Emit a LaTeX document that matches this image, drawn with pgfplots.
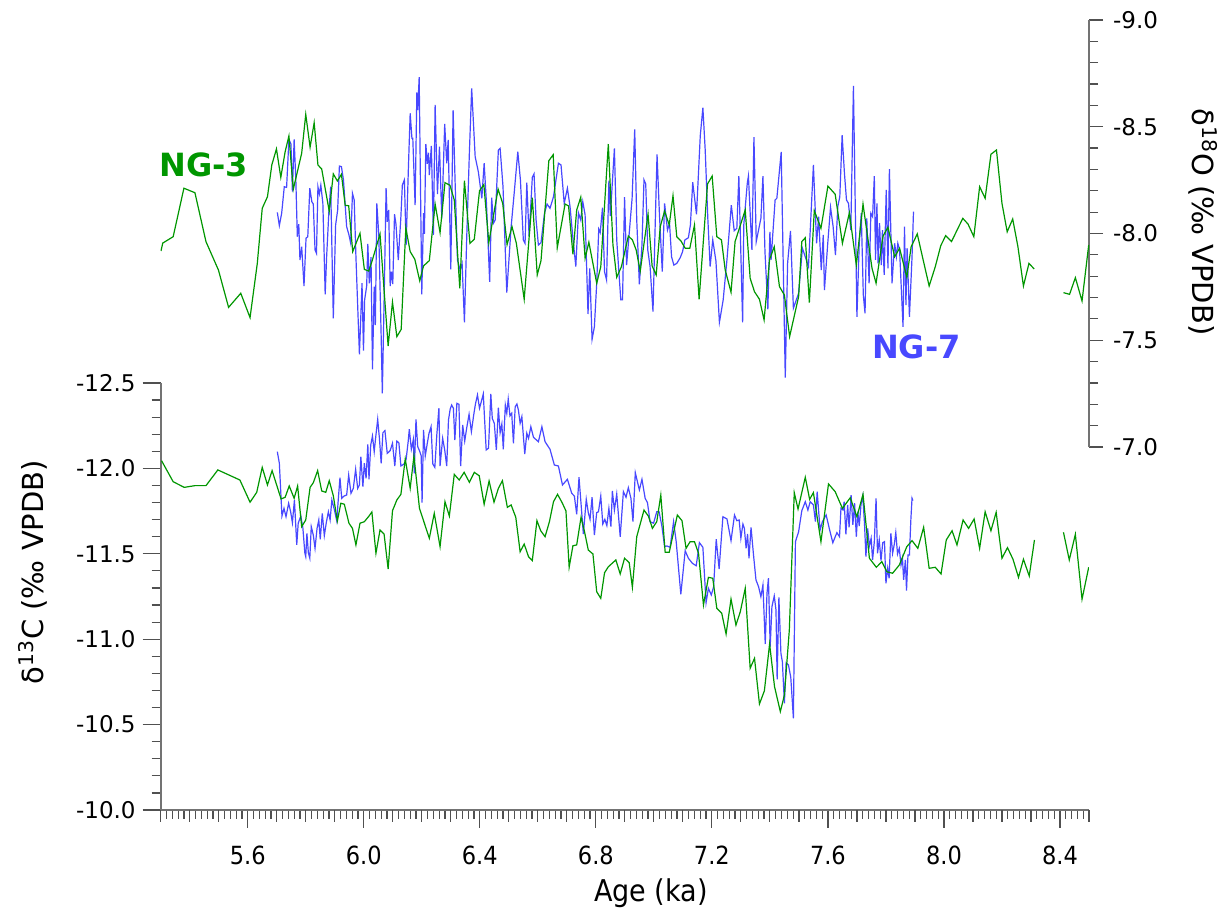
\documentclass[border=0pt]{standalone}
\usepackage{fontspec}
\setmainfont{DejaVu Sans}
\newfontfamily\condfont{DejaVu Sans Condensed}
\usepackage{pgfplots}
\pgfplotsset{compat=1.18}
\definecolor{ngGreen}{RGB}{0,150,0}
\definecolor{ngBlue}{RGB}{72,72,255}
\definecolor{axgray}{RGB}{115,115,115}
\definecolor{tickgray}{RGB}{80,80,80}
\begin{document}
\begin{tikzpicture}
\path[use as bounding box] (0,0) rectangle (611pt,454pt);
% ---------------- bottom axis: d13C ----------------
\begin{axis}[
  at={(80.35pt,49pt)}, anchor=south west,
  scale only axis, width=464.15pt, height=213.5pt,
  xmin=5.3, xmax=8.5, ymin=-12.5, ymax=-10, y dir=reverse,
  axis x line*=bottom, axis y line*=left,
  axis line style={-, draw=axgray, line width=1pt},
  tick align=outside,
  every tick/.style={draw=tickgray, line width=0.6pt},
  major tick length=9pt, minor tick length=4.5pt,
  xtick={5.6,6.0,6.4,6.8,7.2,7.6,8.0,8.4},
  xticklabels={5.6,6.0,6.4,6.8,7.2,7.6,8.0,8.4},
  minor xtick={5.30,5.32,...,8.50},
  extra x ticks={5.3,5.4,5.5,5.7,5.8,5.9,6.1,6.2,6.3,6.5,6.6,6.7,6.9,7.0,7.1,7.3,7.4,7.5,7.7,7.8,7.9,8.1,8.2,8.3,8.5},
  extra x tick labels={},
  extra x tick style={major tick length=6pt},
  ytick={-12.5,-12,-11.5,-11,-10.5,-10},
  yticklabels={-12.5,-12.0,-11.5,-11.0,-10.5,-10.0},
  minor ytick={-12.4,-12.3,-12.2,-12.1,-11.9,-11.8,-11.7,-11.6,-11.4,-11.3,-11.2,-11.1,-10.9,-10.8,-10.7,-10.6,-10.4,-10.3,-10.2,-10.1},
  yticklabel style={font=\fontsize{11.5}{13}\selectfont},
  xticklabel style={font=\condfont\fontsize{12.5}{14}\selectfont, yshift=-5.5pt},
  xlabel={Age (ka)},
  ylabel={δ\textsuperscript{13}C (‰ VPDB)},
  ylabel style={font=\fontsize{14.5}{17}\selectfont, at={(axis description cs:-0.1376,0.557)}, anchor=center},
  xlabel style={font=\condfont\fontsize{15}{17}\selectfont, at={(axis description cs:0.528,-0.194)}, anchor=center},
  clip mode=individual,
]
\addplot[ngBlue, line width=0.6pt] coordinates {
(5.702,-12.098)(5.709,-12.030)(5.718,-11.721)(5.725,-11.766)(5.732,-11.717)(5.741,-11.796)(5.748,-11.746)(5.754,-11.682)(5.761,-11.815)(5.769,-11.552)
(5.774,-11.679)(5.783,-11.721)(5.790,-11.653)(5.797,-11.503)(5.800,-11.483)(5.804,-11.620)(5.809,-11.506)(5.814,-11.474)(5.819,-11.659)(5.826,-11.610)
(5.832,-11.532)(5.839,-11.649)(5.845,-11.698)(5.850,-11.585)(5.857,-11.737)(5.864,-11.606)(5.871,-11.684)(5.878,-11.746)(5.884,-11.698)(5.890,-11.815)
(5.899,-11.756)(5.907,-11.692)(5.912,-11.815)(5.918,-11.946)(5.924,-11.825)(5.932,-11.838)(5.941,-11.844)(5.948,-11.961)(5.956,-11.854)(5.964,-11.883)
(5.972,-11.995)(5.979,-11.883)(5.985,-11.903)(5.990,-12.068)(5.997,-11.893)(6.002,-12.030)(6.008,-11.942)(6.014,-12.141)(6.018,-11.936)(6.024,-12.137)
(6.030,-12.190)(6.036,-12.098)(6.042,-12.196)(6.048,-12.287)(6.054,-12.176)(6.060,-12.030)(6.066,-12.209)(6.073,-12.221)(6.081,-12.088)(6.091,-12.104)
(6.099,-12.147)(6.107,-12.014)(6.114,-12.160)(6.121,-12.150)(6.128,-12.014)(6.139,-12.026)(6.146,-12.053)(6.153,-12.156)(6.157,-12.229)(6.164,-12.112)
(6.171,-12.170)(6.174,-11.971)(6.180,-12.287)(6.186,-12.127)(6.192,-12.104)(6.198,-12.073)(6.201,-11.799)(6.206,-12.225)(6.212,-12.073)(6.219,-12.147)
(6.225,-12.206)(6.232,-12.244)(6.238,-12.026)(6.245,-12.006)(6.252,-12.201)(6.259,-12.352)(6.263,-12.014)(6.272,-12.176)(6.279,-12.108)(6.286,-12.014)
(6.292,-12.283)(6.298,-12.348)(6.303,-12.371)(6.309,-12.352)(6.314,-12.166)(6.321,-12.381)(6.328,-12.375)(6.334,-12.014)(6.341,-12.254)(6.348,-12.160)
(6.355,-12.238)(6.363,-12.317)(6.371,-12.215)(6.379,-12.313)(6.385,-12.377)(6.392,-12.430)(6.399,-12.352)(6.406,-12.396)(6.412,-12.436)(6.422,-12.108)
(6.430,-12.118)(6.438,-12.436)(6.443,-12.293)(6.450,-12.264)(6.457,-12.108)(6.464,-12.355)(6.470,-12.209)(6.476,-12.260)(6.481,-12.112)(6.488,-12.371)
(6.493,-12.323)(6.498,-12.406)(6.504,-12.307)(6.510,-12.323)(6.516,-12.147)(6.522,-12.361)(6.528,-12.377)(6.533,-12.342)(6.539,-12.264)(6.545,-12.303)
(6.555,-12.084)(6.562,-12.206)(6.568,-12.176)(6.576,-12.244)(6.585,-12.182)(6.602,-12.156)(6.614,-12.244)(6.625,-12.156)(6.642,-12.112)(6.657,-12.020)
(6.671,-12.014)(6.685,-11.903)(6.702,-11.936)(6.717,-11.854)(6.726,-11.838)(6.734,-11.731)(6.742,-11.948)(6.757,-11.616)(6.767,-11.819)(6.774,-11.741)
(6.780,-11.702)(6.787,-11.831)(6.795,-11.610)(6.803,-11.741)(6.809,-11.746)(6.817,-11.838)(6.824,-11.674)(6.831,-11.702)(6.838,-11.665)(6.845,-11.766)
(6.852,-11.659)(6.857,-11.868)(6.864,-11.756)(6.872,-11.850)(6.884,-11.600)(6.895,-11.864)(6.904,-11.831)(6.912,-11.887)(6.921,-11.825)(6.928,-11.688)
(6.936,-11.975)(6.950,-11.874)(6.959,-11.936)(6.970,-11.825)(6.978,-11.799)(6.987,-11.688)(6.999,-11.679)(7.010,-11.746)(7.018,-11.746)(7.028,-11.659)
(7.037,-11.542)(7.045,-11.546)(7.056,-11.538)(7.068,-11.688)(7.077,-11.571)(7.093,-11.263)(7.108,-11.518)(7.119,-11.474)(7.133,-11.444)(7.146,-11.430)
(7.157,-11.565)(7.169,-11.538)(7.180,-11.214)(7.188,-11.298)(7.198,-11.259)(7.206,-11.307)(7.215,-11.585)(7.225,-11.411)(7.238,-11.717)(7.252,-11.704)
(7.266,-11.577)(7.278,-11.727)(7.286,-11.694)(7.294,-11.698)(7.300,-11.591)(7.307,-11.674)(7.312,-11.649)(7.318,-11.532)(7.323,-11.616)(7.328,-11.474)
(7.335,-11.655)(7.343,-11.503)(7.352,-11.347)(7.361,-11.307)(7.369,-11.249)(7.376,-11.317)(7.384,-10.972)(7.390,-11.269)(7.395,-11.357)(7.401,-10.956)
(7.407,-11.190)(7.415,-11.253)(7.421,-11.171)(7.425,-10.765)(7.431,-11.245)(7.438,-10.917)(7.443,-10.868)(7.450,-10.625)(7.456,-10.862)(7.464,-10.849)
(7.472,-10.777)(7.481,-10.537)(7.488,-11.571)(7.499,-11.629)(7.510,-11.752)(7.522,-11.805)(7.531,-11.756)(7.539,-11.805)(7.550,-11.786)(7.557,-11.688)
(7.563,-11.864)(7.573,-11.639)(7.581,-11.688)(7.594,-11.727)(7.606,-11.639)(7.617,-11.565)(7.631,-11.624)(7.640,-11.600)(7.645,-11.766)(7.652,-11.756)
(7.656,-11.805)(7.662,-11.614)(7.668,-11.786)(7.673,-11.655)(7.680,-11.844)(7.686,-11.669)(7.692,-11.796)(7.698,-11.600)(7.703,-11.746)(7.708,-11.663)
(7.714,-11.786)(7.720,-11.838)(7.726,-11.682)(7.731,-11.483)(7.737,-11.649)(7.743,-11.546)(7.749,-11.591)(7.754,-11.464)(7.760,-11.571)(7.766,-11.825)
(7.771,-11.503)(7.777,-11.581)(7.783,-11.460)(7.789,-11.565)(7.795,-11.571)(7.800,-11.327)(7.806,-11.415)(7.811,-11.357)(7.817,-11.620)(7.823,-11.503)
(7.829,-11.557)(7.834,-11.624)(7.840,-11.499)(7.846,-11.532)(7.852,-11.434)(7.857,-11.474)(7.861,-11.347)(7.867,-11.464)(7.871,-11.284)(7.876,-11.493)
(7.881,-11.493)(7.886,-11.702)(7.890,-11.825)(7.893,-11.811)
};
\addplot[ngGreen, line width=0.6pt] coordinates {
(5.303,-12.045)(5.343,-11.922)(5.381,-11.889)(5.418,-11.899)(5.456,-11.899)(5.497,-11.991)(5.573,-11.932)(5.608,-11.802)(5.631,-11.860)(5.650,-12.006)
(5.668,-11.903)(5.684,-11.987)(5.715,-11.821)(5.729,-11.831)(5.743,-11.897)(5.760,-11.825)(5.772,-11.897)(5.786,-11.659)(5.800,-11.698)(5.815,-11.889)
(5.826,-11.916)(5.841,-11.987)(5.855,-11.868)(5.869,-11.860)(5.881,-11.928)(5.895,-11.840)(5.909,-11.692)(5.921,-11.796)(5.933,-11.790)(5.949,-11.679)
(5.961,-11.649)(5.973,-11.552)(5.987,-11.679)(6.002,-11.688)(6.018,-11.721)(6.028,-11.745)(6.042,-11.503)(6.056,-11.639)(6.070,-11.616)(6.084,-11.411)
(6.099,-11.752)(6.114,-11.815)(6.128,-11.848)(6.143,-12.055)(6.160,-11.883)(6.173,-12.073)(6.192,-11.766)(6.226,-11.591)(6.243,-11.737)(6.263,-11.542)
(6.280,-11.805)(6.295,-11.721)(6.312,-11.965)(6.329,-11.932)(6.346,-11.977)(6.364,-11.919)(6.381,-11.977)(6.398,-11.957)(6.415,-11.790)(6.432,-11.926)
(6.449,-11.802)(6.464,-11.883)(6.478,-11.928)(6.495,-11.772)(6.508,-11.786)(6.524,-11.714)(6.539,-11.512)(6.553,-11.557)(6.568,-11.483)(6.581,-11.460)
(6.597,-11.694)(6.610,-11.635)(6.625,-11.600)(6.640,-11.688)(6.654,-11.805)(6.668,-11.848)(6.683,-11.802)(6.697,-11.751)(6.708,-11.421)(6.721,-11.547)
(6.734,-11.552)(6.749,-11.714)(6.761,-11.629)(6.774,-11.522)(6.790,-11.499)(6.803,-11.278)(6.817,-11.239)(6.830,-11.389)(6.843,-11.424)(6.869,-11.464)
(6.884,-11.382)(6.899,-11.474)(6.915,-11.448)(6.926,-11.304)(6.941,-11.600)(6.966,-11.756)(6.981,-11.721)(6.995,-11.649)(7.010,-11.688)(7.024,-11.844)
(7.039,-11.509)(7.053,-11.509)(7.081,-11.727)(7.097,-11.694)(7.111,-11.532)(7.125,-11.571)(7.140,-11.571)(7.154,-11.503)(7.171,-11.200)(7.188,-11.362)
(7.203,-11.357)(7.217,-11.181)(7.234,-11.152)(7.249,-11.030)(7.266,-11.235)(7.283,-11.083)(7.298,-11.161)(7.315,-11.298)(7.332,-10.830)(7.347,-10.888)
(7.364,-10.621)(7.381,-10.698)(7.399,-10.972)(7.416,-10.722)(7.436,-10.576)(7.450,-10.673)(7.467,-11.054)(7.484,-11.858)(7.497,-11.762)(7.522,-11.948)
(7.537,-11.819)(7.550,-11.858)(7.576,-11.571)(7.602,-11.909)(7.625,-11.864)(7.650,-11.766)(7.677,-11.828)(7.700,-11.717)(7.721,-11.848)(7.743,-11.474)
(7.767,-11.421)(7.786,-11.454)(7.803,-11.395)(7.823,-11.386)(7.846,-11.434)(7.872,-11.542)(7.890,-11.577)(7.910,-11.532)(7.930,-11.655)(7.949,-11.415)
(7.970,-11.421)(7.990,-11.382)(8.008,-11.581)(8.028,-11.635)(8.045,-11.552)(8.066,-11.698)(8.085,-11.649)(8.104,-11.704)(8.123,-11.532)(8.142,-11.746)
(8.162,-11.635)(8.180,-11.743)(8.200,-11.474)(8.219,-11.536)(8.238,-11.468)(8.257,-11.362)(8.274,-11.468)(8.294,-11.370)(8.312,-11.581)
};
\addplot[ngGreen, line width=0.6pt] coordinates {
(8.412,-11.626)(8.432,-11.464)(8.453,-11.614)(8.476,-11.234)(8.499,-11.421)
};
\end{axis}
% ---------------- top axis: d18O ----------------
\begin{axis}[
  at={(80.35pt,230.5pt)}, anchor=south west,
  scale only axis, width=464.15pt, height=213.5pt,
  xmin=5.3, xmax=8.5, ymin=-9, ymax=-7, y dir=reverse,
  axis x line=none, axis y line*=right,
  axis line style={-, draw=axgray, line width=1pt},
  tick align=outside,
  every tick/.style={draw=tickgray, line width=0.6pt},
  major tick length=7pt, minor tick length=4.5pt,
  ytick={-9,-8.5,-8,-7.5,-7},
  yticklabels={-9.0,-8.5,-8.0,-7.5,-7.0},
  minor ytick={-8.9,-8.8,-8.7,-8.6,-8.4,-8.3,-8.2,-8.1,-7.9,-7.8,-7.7,-7.6,-7.4,-7.3,-7.2,-7.1},
  yticklabel style={font=\fontsize{11.5}{13}\selectfont, xshift=1.5pt},
  ylabel={δ\textsuperscript{18}O (‰ VPDB)},
  ylabel style={font=\fontsize{14.5}{17}\selectfont, at={(axis description cs:1.1228,0.527)}, anchor=center, rotate=180},
  clip mode=individual,
]
\addplot[ngBlue, line width=0.6pt] coordinates {
(5.702,-8.099)(5.709,-8.037)(5.717,-8.095)(5.726,-8.219)(5.734,-8.216)(5.742,-8.441)(5.749,-8.419)(5.754,-8.196)(5.760,-8.441)(5.766,-8.243)
(5.771,-7.985)(5.776,-8.044)(5.780,-7.876)(5.786,-7.938)(5.794,-7.754)(5.801,-7.978)(5.807,-7.985)(5.814,-8.212)(5.821,-8.149)(5.826,-8.138)
(5.832,-7.923)(5.837,-7.907)(5.842,-8.219)(5.847,-8.185)(5.852,-8.227)(5.859,-8.141)(5.867,-7.715)(5.872,-7.891)(5.880,-8.110)(5.886,-8.219)
(5.895,-7.603)(5.903,-8.040)(5.910,-8.110)(5.916,-8.316)(5.923,-8.313)(5.930,-8.251)(5.941,-8.032)(5.949,-7.993)(5.955,-7.954)(5.961,-8.188)
(5.967,-8.157)(5.973,-7.891)(5.985,-7.434)(5.994,-7.767)(5.999,-7.451)(6.003,-7.689)(6.010,-7.754)(6.014,-7.951)(6.019,-7.767)(6.025,-7.889)
(6.030,-7.364)(6.036,-7.751)(6.040,-7.571)(6.045,-8.141)(6.052,-7.988)(6.060,-7.517)(6.064,-7.251)(6.071,-7.751)(6.077,-8.212)(6.081,-8.055)
(6.086,-8.110)(6.091,-7.754)(6.095,-7.821)(6.100,-7.763)(6.106,-8.090)(6.111,-8.044)(6.119,-7.876)(6.128,-8.079)(6.133,-8.227)(6.140,-8.251)
(6.146,-7.946)(6.154,-8.313)(6.160,-8.563)(6.166,-8.446)(6.169,-8.446)(6.177,-8.133)(6.183,-8.661)(6.186,-8.578)(6.191,-8.732)(6.200,-7.715)
(6.206,-8.095)(6.209,-7.998)(6.214,-8.419)(6.219,-8.326)(6.223,-8.378)(6.226,-8.274)(6.233,-8.410)(6.240,-7.993)(6.246,-8.602)(6.254,-8.185)
(6.261,-8.407)(6.269,-8.071)(6.279,-8.513)(6.286,-8.329)(6.291,-8.438)(6.300,-7.832)(6.308,-8.578)(6.315,-8.235)(6.323,-7.876)(6.332,-7.829)
(6.339,-7.860)(6.347,-7.584)(6.355,-7.985)(6.364,-8.376)(6.372,-8.680)(6.384,-8.360)(6.395,-8.289)(6.407,-8.165)(6.415,-8.329)(6.423,-8.141)
(6.434,-7.774)(6.441,-8.168)(6.447,-8.048)(6.453,-8.063)(6.464,-8.391)(6.470,-8.399)(6.480,-8.219)(6.493,-7.723)(6.508,-8.032)(6.519,-8.196)
(6.531,-8.383)(6.540,-8.251)(6.550,-7.970)(6.556,-7.954)(6.562,-8.238)(6.570,-7.985)(6.581,-8.263)(6.587,-8.279)(6.594,-8.063)(6.602,-7.946)
(6.611,-7.957)(6.623,-8.095)(6.632,-8.138)(6.642,-8.118)(6.654,-8.172)(6.671,-8.329)(6.680,-8.321)(6.691,-8.141)(6.702,-8.212)(6.711,-8.126)
(6.721,-7.978)(6.731,-7.845)(6.740,-8.097)(6.748,-8.063)(6.755,-8.149)(6.763,-8.087)(6.773,-7.623)(6.779,-7.837)(6.787,-7.504)(6.795,-7.563)
(6.803,-7.767)(6.810,-8.020)(6.815,-8.004)(6.823,-8.121)(6.830,-7.821)(6.837,-7.782)(6.845,-8.247)(6.850,-8.082)(6.864,-8.399)(6.872,-7.970)
(6.886,-7.689)(6.892,-7.689)(6.899,-8.170)(6.906,-7.852)(6.925,-8.165)(6.934,-8.488)(6.941,-8.063)(6.950,-7.762)(6.959,-7.946)(6.966,-8.251)
(6.972,-8.232)(6.979,-7.923)(6.987,-7.845)(6.997,-7.634)(7.004,-8.008)(7.011,-8.371)(7.019,-8.097)(7.029,-7.821)(7.037,-8.141)(7.047,-8.016)
(7.054,-8.048)(7.061,-7.891)(7.069,-7.852)(7.079,-7.860)(7.091,-7.887)(7.099,-7.915)(7.107,-7.970)(7.119,-7.980)(7.126,-8.040)(7.134,-8.240)
(7.147,-8.090)(7.160,-8.458)(7.169,-8.589)(7.177,-8.391)(7.186,-8.071)(7.194,-7.845)(7.203,-7.970)(7.214,-7.871)(7.226,-7.584)(7.239,-7.689)
(7.252,-7.877)(7.267,-8.133)(7.277,-8.013)(7.286,-8.024)(7.293,-8.269)(7.306,-7.584)(7.310,-8.040)(7.322,-8.235)(7.326,-8.269)(7.338,-7.923)
(7.345,-8.451)(7.353,-7.962)(7.369,-8.071)(7.376,-8.269)(7.383,-7.915)(7.393,-7.645)(7.400,-8.008)(7.404,-7.876)(7.418,-8.157)(7.424,-8.165)
(7.439,-8.382)(7.453,-7.325)(7.461,-7.860)(7.471,-8.012)(7.481,-7.650)(7.499,-7.720)(7.512,-7.931)(7.522,-7.891)(7.533,-7.845)(7.550,-8.321)
(7.561,-7.954)(7.568,-8.079)(7.577,-7.829)(7.584,-7.993)(7.588,-7.735)(7.599,-7.946)(7.609,-8.123)(7.618,-8.032)(7.626,-7.899)(7.634,-8.126)
(7.641,-8.172)(7.649,-8.461)(7.657,-8.282)(7.664,-8.157)(7.671,-8.141)(7.679,-8.016)(7.688,-8.691)(7.700,-7.610)(7.708,-7.954)(7.715,-8.095)
(7.722,-7.712)(7.728,-7.626)(7.734,-8.071)(7.742,-7.767)(7.748,-8.095)(7.754,-8.079)(7.760,-8.269)(7.764,-7.876)(7.769,-8.141)(7.773,-7.860)
(7.778,-8.048)(7.784,-7.852)(7.788,-8.016)(7.794,-7.806)(7.801,-8.204)(7.807,-7.837)(7.812,-8.301)(7.821,-7.767)(7.830,-7.954)(7.836,-7.891)
(7.841,-7.954)(7.847,-7.923)(7.859,-7.563)(7.864,-8.032)(7.869,-7.665)(7.873,-7.931)(7.881,-7.610)(7.890,-7.891)(7.895,-8.102)
};
\addplot[ngGreen, line width=0.6pt] coordinates {
(5.301,-7.918)(5.307,-7.955)(5.343,-7.985)(5.380,-8.212)(5.418,-8.191)(5.456,-7.962)(5.499,-7.829)(5.534,-7.654)(5.576,-7.720)(5.608,-7.606)
(5.633,-7.860)(5.650,-8.118)(5.668,-8.172)(5.683,-8.321)(5.699,-8.396)(5.714,-8.263)(5.729,-8.383)(5.742,-8.457)(5.757,-8.207)(5.786,-8.376)
(5.800,-8.558)(5.815,-8.404)(5.829,-8.519)(5.842,-8.321)(5.855,-8.302)(5.881,-8.104)(5.895,-8.279)(5.909,-8.246)(5.923,-8.277)(5.936,-8.132)
(5.948,-8.130)(5.962,-7.915)(5.987,-8.001)(6.002,-7.832)(6.017,-7.824)(6.028,-7.868)(6.056,-7.998)(6.084,-7.473)(6.099,-7.679)(6.114,-7.517)
(6.129,-7.551)(6.145,-8.026)(6.160,-7.915)(6.176,-7.879)(6.193,-7.778)(6.206,-7.848)(6.226,-7.873)(6.246,-8.138)(6.263,-8.004)(6.280,-8.238)
(6.297,-8.226)(6.312,-8.157)(6.331,-7.743)(6.347,-8.247)(6.366,-7.954)(6.381,-7.973)(6.399,-8.200)(6.414,-8.229)(6.431,-7.957)(6.463,-8.208)
(6.479,-8.141)(6.494,-7.948)(6.511,-8.032)(6.526,-7.954)(6.553,-7.692)(6.581,-8.168)(6.598,-7.806)(6.611,-7.873)(6.638,-8.341)(6.653,-8.369)
(6.667,-7.933)(6.694,-8.138)(6.706,-8.129)(6.721,-7.903)(6.734,-8.110)(6.748,-8.170)(6.763,-7.884)(6.776,-7.959)(6.803,-7.767)(6.817,-7.844)
(6.843,-8.419)(6.859,-7.946)(6.872,-7.795)(6.888,-7.844)(6.912,-7.988)(6.926,-7.970)(6.939,-7.923)(6.953,-7.824)(6.980,-8.090)(6.994,-7.848)
(7.008,-7.806)(7.022,-8.032)(7.037,-8.105)(7.053,-8.040)(7.066,-8.177)(7.079,-7.985)(7.093,-7.966)(7.108,-7.931)(7.124,-7.931)(7.140,-8.040)
(7.156,-7.692)(7.185,-8.232)(7.201,-8.269)(7.217,-7.985)(7.233,-7.970)(7.246,-7.829)(7.266,-7.725)(7.280,-7.962)(7.315,-8.110)(7.332,-7.790)
(7.347,-7.727)(7.364,-7.692)(7.380,-7.595)(7.399,-7.879)(7.415,-7.938)(7.433,-7.751)(7.450,-7.712)(7.468,-7.517)(7.499,-7.704)(7.510,-7.962)
(7.522,-7.980)(7.536,-7.676)(7.553,-8.107)(7.576,-8.024)(7.600,-8.222)(7.625,-8.184)(7.650,-7.954)(7.674,-8.097)(7.698,-7.852)(7.721,-8.138)
(7.752,-7.837)(7.766,-7.767)(7.790,-7.988)(7.807,-8.029)(7.830,-7.891)(7.847,-7.931)(7.872,-7.795)(7.887,-7.938)(7.908,-7.998)(7.927,-7.884)
(7.949,-7.754)(7.970,-7.844)(7.989,-7.943)(8.006,-7.990)(8.026,-7.962)(8.065,-8.071)(8.083,-8.044)(8.103,-7.985)(8.123,-8.219)(8.142,-8.165)
(8.162,-8.371)(8.181,-8.391)(8.200,-8.141)(8.218,-8.008)(8.237,-8.068)(8.255,-7.938)(8.274,-7.754)(8.293,-7.860)(8.311,-7.834)
};
\addplot[ngGreen, line width=0.6pt] coordinates {
(8.412,-7.723)(8.433,-7.715)(8.453,-7.793)(8.476,-7.684)(8.499,-7.946)
};
\node[text=ngGreen, font=\bfseries\fontsize{16}{19}\selectfont] at (axis cs:5.449,-8.32) {NG-3};
\node[text=ngBlue, font=\bfseries\fontsize{16}{19}\selectfont] at (axis cs:7.905,-7.468) {NG-7};
\end{axis}
\end{tikzpicture}
\end{document}
